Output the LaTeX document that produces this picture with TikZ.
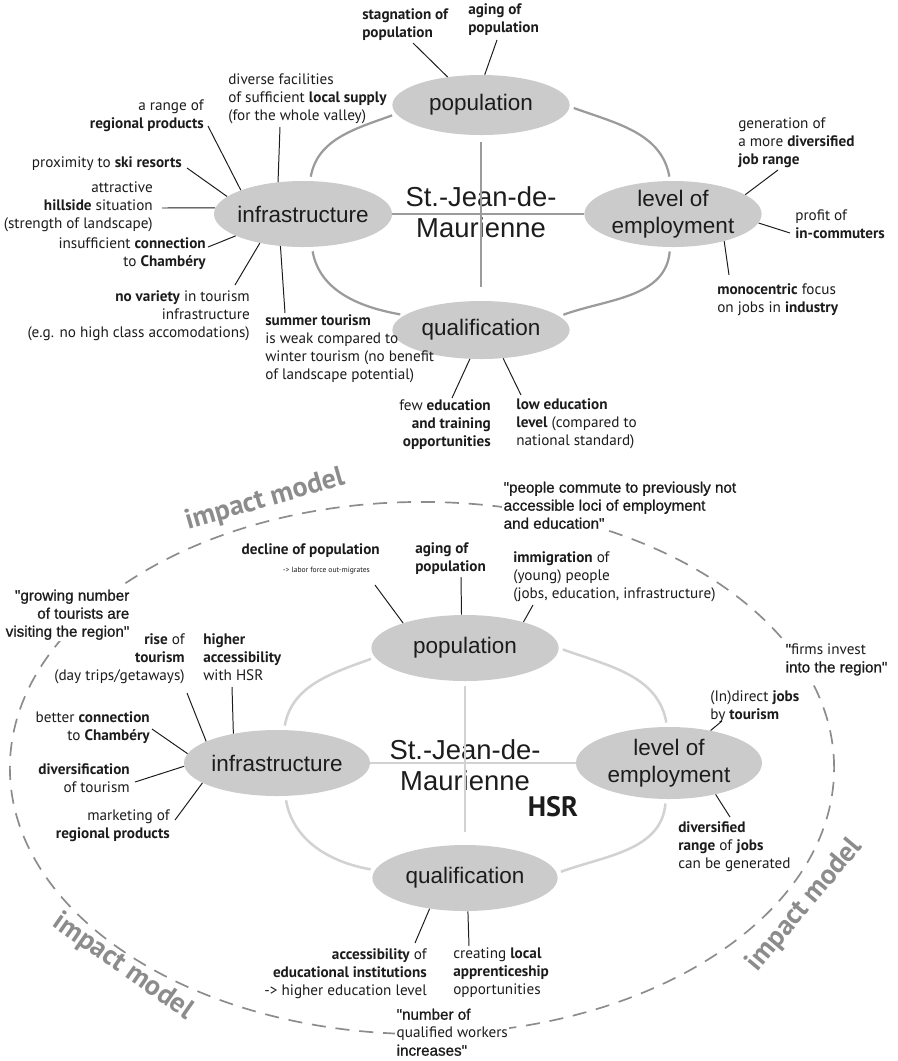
\documentclass[tikz,border=0pt]{standalone}
\usepackage{fontspec}
\setmainfont{PT Sans}
\newfontfamily\helvfont{Liberation Sans}
\newfontfamily\quotefont{Liberation Sans}[FakeBold=1]
\usepackage{xcolor}
\usepackage{tikz}
\usetikzlibrary{shapes.geometric}
\definecolor{SjFill}{HTML}{CBCBCB}
\definecolor{SjRing}{HTML}{9B9B9B}
\definecolor{SjRingHSR}{HTML}{D2D2D2}
\definecolor{SjDash}{HTML}{8C8C8C}
\definecolor{SjInk}{HTML}{1C1C1C}

\begin{document}
\begin{tikzpicture}[x=0.025cm, y=-0.025cm,
  factor/.style={ellipse, fill=SjFill, inner xsep=-8pt, inner ysep=-6pt, align=center,
    text=SjInk, font=\helvfont\fontsize{16}{19}\selectfont},
  town/.style={align=center, text=SjInk, font=\helvfont\fontsize{19.5}{22}\selectfont},
  remark/.style={inner sep=0pt, text=SjInk, font=\fontsize{10.8}{13}\selectfont},
  saying/.style={inner sep=1pt, fill=white, text=SjInk, font=\quotefont\fontsize{10.8}{12.8}\selectfont},
  impact/.style={text=SjDash, font=\bfseries\fontsize{20}{24}\selectfont},
  conn/.style={line width=0.7pt, SjInk},
  ring/.style={line width=1.6pt, SjRing},
  ringHSR/.style={line width=1.8pt, SjRingHSR},
  arc/.style={shorten <=3pt, shorten >=3pt}]
  \useasboundingbox (0,0) rectangle (898,1061);

  \node[factor, minimum width=4.43cm, minimum height=1.5cm] (pop1) at (481,105) {population};
  \node[factor, minimum width=4.45cm, minimum height=1.65cm] (inf1) at (303,214) {infrastructure};
  \node[factor, minimum width=4.43cm, minimum height=1.65cm] (emp1) at (673,214) {level of\\employment};
  \node[factor, minimum width=4.43cm, minimum height=1.45cm] (qual1) at (481,330) {qualification};
  \node[town] (sj1) at (481,212) {St.-Jean-de-\\Maurienne};
  \draw[ring] (inf1) -- (emp1);
  \draw[ring, shorten <=5pt, shorten >=10pt] (pop1) -- (qual1);
  \draw[ring, arc] (pop1.186) to[out=200,in=80] (inf1.78);
  \draw[ring, arc] (pop1.-1) to[out=-20,in=100] (emp1.95);
  \draw[ring, arc] (inf1.-75) to[out=-80,in=170] (qual1.169);
  \draw[ring, arc] (qual1.10) to[out=20,in=265] (emp1.-95);

  \node[remark, anchor=north west, align=left] (stag) at (362,8) {\textbf{stagnation of}\\\textbf{population}};
  \node[remark, anchor=north west, align=left] (aging1) at (468,3) {\textbf{aging of}\\\textbf{population}};
  \node[remark, anchor=north west, align=left] (supply) at (228,73) {diverse facilities\\of sufficient \textbf{local supply}\\(for the whole valley)};
  \node[remark, anchor=north east, align=right] (range) at (204,99) {a range of\\\textbf{regional products}};
  \node[remark, anchor=north east, align=right] (ski) at (182,156) {proximity to \textbf{ski resorts}};
  \node[remark, anchor=north east, align=right] (hill) at (153,181) {attractive\\\textbf{hillside} situation\\(strength of landscape)};
  \node[remark, anchor=north east, align=right] (chamb1) at (206,237) {insufficient \textbf{connection}\\to \textbf{Chambéry}};
  \node[remark, anchor=north east, align=right] (variety) at (250,290) {\textbf{no variety} in tourism\\infrastructure\\(e.g. no high class accomodations)};
  \node[remark, anchor=north west, align=left] (summer) at (265,314) {\textbf{summer tourism}\\is weak compared to\\winter tourism (no benefit\\of landscape potential)};
  \node[remark, anchor=north east, align=right] (few) at (491,399) {few \textbf{education}\\\textbf{and training}\\\textbf{opportunities}};
  \node[remark, anchor=north west, align=left] (low) at (516,398) {\textbf{low education}\\\textbf{level} (compared to\\national standard)};
  \node[remark, anchor=north west, align=left] (jobrange) at (738,117) {generation of\\a more \textbf{diversified}\\\textbf{job range}};
  \node[remark, anchor=north west, align=left] (profit) at (795,209) {profit of\\\textbf{in-commuters}};
  \node[remark, anchor=north west, align=left] (mono) at (717,283) {\textbf{monocentric} focus\\on jobs in \textbf{industry}};

  \draw[conn] ([shift={(51,35)}]stag.north west) -- (pop1.140);
  \draw[conn] ([shift={(29,37)}]aging1.north west) -- (pop1.83);
  \draw[conn] ([shift={(52,54)}]supply.north west) -- (inf1.128);
  \draw[conn] ([shift={(4,27)}]range.north east) -- (inf1.159);
  \draw[conn] ([shift={(5,12)}]ski.north east) -- (inf1.167);
  \draw[conn] ([shift={(9,27)}]hill.north east) -- (inf1.176);
  \draw[conn] ([shift={(2,10)}]chamb1.north east) -- (inf1.198);
  \draw[conn] ([shift={(-15,-5)}]variety.north east) -- (inf1.214);
  \draw[conn] ([shift={(20,-1)}]summer.north west) -- (inf1.235);
  \draw[conn] ([shift={(-39,-1)}]few.north east) -- (qual1.249);
  \draw[conn] ([shift={(5,-3)}]low.north west) -- (qual1.308);
  \draw[conn] ([shift={(40,53)}]jobrange.north west) -- (emp1.15);
  \draw[conn] ([shift={(-5,24)}]profit.north west) -- (emp1.-6);
  \draw[conn] ([shift={(12,-8)}]mono.north west) -- (emp1.-28);

  \draw[SjDash, line width=1.2pt, dash pattern=on 10pt off 7pt] (422,768) ellipse [x radius=10.3cm, y radius=6.65cm];

  \node[factor, minimum width=4.68cm, minimum height=1.65cm] (pop2) at (465,648) {population};
  \node[factor, minimum width=4.65cm, minimum height=1.65cm] (inf2) at (277,763) {infrastructure};
  \node[factor, minimum width=4.65cm, minimum height=1.8cm] (emp2) at (669,763) {level of\\employment};
  \node[factor, minimum width=4.63cm, minimum height=1.65cm] (qual2) at (465,878) {qualification};
  \node[town] (sj2) at (465,765) {St.-Jean-de-\\Maurienne};
  \node[text=SjInk, font=\bfseries\fontsize{20}{24}\selectfont] (hsr) at (553,807) {HSR};
  \draw[ringHSR] (inf2) -- (emp2);
  \draw[ringHSR, shorten <=3pt, shorten >=9pt] (pop2) -- (qual2);
  \draw[ringHSR, arc] (pop2.186) to[out=200,in=80] (inf2.78);
  \draw[ringHSR, arc] (pop2.0) to[out=-20,in=100] (emp2.93);
  \draw[ringHSR, arc] (inf2.-76) to[out=-80,in=170] (qual2.175);
  \draw[ringHSR, arc] (qual2.3) to[out=20,in=265] (emp2.-95);

  \node[remark, anchor=north east, align=right] (decline) at (380,543) {\textbf{decline of population}\\{\fontsize{5.4}{8}\selectfont -> labor force out-migrates}\kern7pt};
  \node[remark, anchor=north west, align=left] (aging2) at (415,542) {\textbf{aging of}\\\textbf{population}};
  \node[remark, anchor=north west, align=left] (immig) at (513,551) {\textbf{immigration} of\\(young) people\\(jobs, education, infrastructure)};
  \node[remark, anchor=north west, align=left] (access) at (203,633) {\textbf{higher}\\\textbf{accessibility}\\with HSR};
  \node[remark, anchor=north east, align=right] (rise) at (185,633) {\textbf{rise} of\\\textbf{tourism}\\(day trips/getaways)};
  \node[remark, anchor=north east, align=right] (chamb2) at (150,711) {better \textbf{connection}\\to \textbf{Chambéry}};
  \node[remark, anchor=north east, align=right] (divers) at (130,763) {\textbf{diversification}\\of tourism};
  \node[remark, anchor=north east, align=right] (market) at (170,809) {marketing of\\\textbf{regional products}};
  \node[remark, anchor=north west, align=left] (tourjobs) at (710,690) {(In)direct \textbf{jobs}\\by \textbf{tourism}};
  \node[remark, anchor=north west, align=left] (jobdiv) at (678,821) {\textbf{diversified}\\\textbf{range} of \textbf{jobs}\\can be generated};
  \node[remark, anchor=north east, align=right] (eduinst) at (427,948) {\textbf{accessibility} of\\\textbf{educational institutions}\\-> higher education level};
  \node[remark, anchor=north west, align=left] (apprent) at (453,947) {creating \textbf{local}\\\textbf{apprenticeship}\\opportunities};

  \draw[conn] ([shift={(-5,42)}]decline.north east) -- (pop2.158);
  \draw[conn] ([shift={(46,35)}]aging2.north west) -- (pop2.96);
  \draw[conn] ([shift={(20,54)}]immig.north west) -- (pop2.24);
  \draw[conn] ([shift={(29,54)}]access.north west) -- (inf2.146);
  \draw[conn] ([shift={(2,60)}]rise.north east) -- (inf2.163);
  \draw[conn] ([shift={(2,18)}]chamb2.north east) -- (inf2.174);
  \draw[conn] ([shift={(5,19)}]divers.north east) -- (inf2.182);
  \draw[conn] ([shift={(5,11)}]market.north east) -- (inf2.195);
  \draw[conn] ([shift={(12,31)}]tourjobs.north west) -- (emp2.38);
  \draw[conn] ([shift={(52,-4)}]jobdiv.north west) -- (emp2.-34);
  \draw[conn] ([shift={(-12,-5)}]eduinst.north east) -- (qual2.221);
  \draw[conn] ([shift={(16,-1)}]apprent.north west) -- (qual2.-85);

  \node[saying, anchor=north west, align=left] (commute) at (502,480) {"people commute to previously not\\accessible loci of employment\\and education"};
  \node[saying, anchor=north east, align=right] (tourists) at (131,588) {"growing number\\of tourists are\\visiting the region"};
  \node[saying, anchor=north west, align=left] (invest) at (784,642) {"{\normalfont firms invest}\\into the region"};
  \node[saying, anchor=north west, align=left] (workers) at (395,1007) {"number of\\{\normalfont qualified workers}\\increases"};

  \node[impact, rotate=16] (imp1) at (265,500) {impact model};
  \node[impact, rotate=50] (imp2) at (805,905) {impact model};
  \node[impact, rotate=-35] (imp3) at (123,967) {impact model};
\end{tikzpicture}
\end{document}
